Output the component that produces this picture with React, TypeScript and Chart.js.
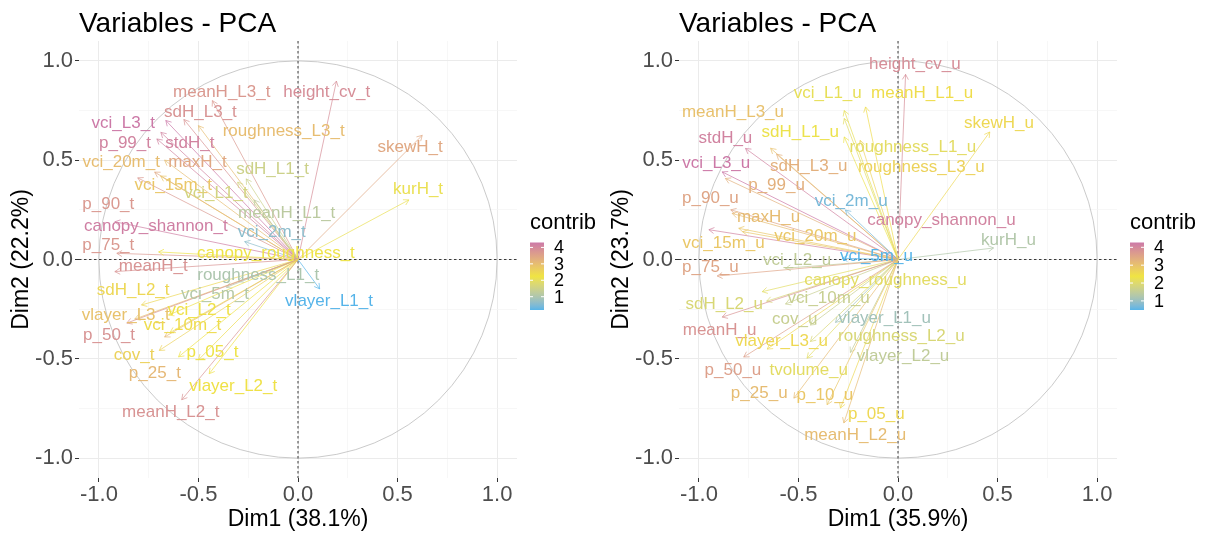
import React, { useEffect, useRef } from "react";
import { Chart, registerables } from "chart.js";

Chart.register(...registerables);

const FONT = '"Liberation Sans", Arial, Helvetica, sans-serif';

// ---------- axis ticks ----------
const gridValues = [-1, -0.75, -0.5, -0.25, 0, 0.25, 0.5, 0.75, 1];
const legendTicks = [1, 2, 3, 4];
const gradientColors = ["#56B4E9", "#F0E442", "#CC79A7"];

// ---------- left panel (_t) ----------
const leftNames = [
  "meanH_L3_t", "height_cv_t", "sdH_L3_t", "roughness_L3_t", "vci_L3_t", "p_99_t", "stdH_t",
  "vci_20m_t", "maxH_t", "vci_15m_t", "sdH_L1_t", "vci_L1_t", "meanH_L1_t", "vci_2m_t",
  "p_90_t", "canopy_shannon_t", "p_75_t", "canopy_roughness_t", "meanH_t", "roughness_L1_t",
  "vlayer_L1_t", "sdH_L2_t", "vci_5m_t", "vlayer_L3_t", "vci_L2_t", "p_50_t", "vci_10m_t",
  "cov_t", "p_25_t", "p_05_t", "vlayer_L2_t", "meanH_L2_t", "skewH_t", "kurH_t", "p_10_t",
];
const leftDim1 = [
  -0.43, 0.193, -0.573, -0.50, -0.664, -0.709, -0.689,
  -0.67, -0.72, -0.69, -0.26, -0.303, -0.22, -0.268,
  -0.805, -0.92, -0.91, -0.70, -0.92, -0.30,
  0.109, -0.786, -0.36, -0.82, -0.65, -0.86, -0.643,
  -0.697, -0.67, -0.60, -0.446, -0.584, 0.624, 0.557, -0.50,
];
const leftDim2 = [
  0.80, 0.898, 0.705, 0.674, 0.70, 0.607, 0.64,
  0.50, 0.44, 0.42, 0.406, 0.39, 0.30, 0.09,
  0.411, 0.19, 0.031, 0.038, -0.061, -0.11,
  -0.148, -0.229, -0.14, -0.30, -0.28, -0.32, -0.368,
  -0.458, -0.39, -0.49, -0.575, -0.706, 0.625, 0.30, -0.505,
];
const leftLabelDim1 = [
  -0.383, 0.144, -0.49, -0.072, -0.878, -0.869, -0.543,
  -0.888, -0.505, -0.627, -0.128, -0.412, -0.057, -0.132,
  -0.953, -0.714, -0.953, -0.111, -0.727, -0.20,
  0.156, -0.828, -0.417, -0.865, -0.497, -0.949, -0.58,
  -0.823, -0.719, -0.43, -0.325, -0.639, 0.563, 0.603, -0.50,
];
const leftLabelDim2 = [
  0.843, 0.840, 0.743, 0.647, 0.684, 0.584, 0.587,
  0.488, 0.491, 0.374, 0.453, 0.333, 0.235, 0.135,
  0.279, 0.165, 0.073, 0.029, -0.033, -0.079,
  -0.21, -0.153, -0.173, -0.279, -0.257, -0.384, -0.329,
  -0.48, -0.575, -0.468, -0.639, -0.77, 0.564, 0.353, -0.505,
];
const leftContrib = [
  3.7, 3.9, 3.8, 3.0, 4.3, 4.1, 4.1,
  3.0, 3.4, 2.8, 1.5, 1.6, 1.2, 0.6,
  3.7, 4.2, 3.7, 2.2, 3.8, 1.0,
  0.19, 2.5, 1.1, 2.9, 2.3, 3.8, 2.4,
  2.6, 3.1, 2.2, 2.3, 3.8, 3.4, 2.1, 2.4,
];
const leftHiddenLabels = ["p_10_t"];

// ---------- right panel (_u) ----------
const rightNames = [
  "height_cv_u", "vci_L1_u", "meanH_L1_u", "meanH_L3_u", "skewH_u", "stdH_u", "sdH_L1_u",
  "roughness_L1_u", "roughness_L3_u", "vci_L3_u", "sdH_L3_u", "p_99_u", "p_90_u", "vci_2m_u",
  "maxH_u", "canopy_shannon_u", "vci_20m_u", "kurH_u", "vci_15m_u", "vci_L2_u", "vci_5m_u",
  "p_75_u", "canopy_roughness_u", "sdH_L2_u", "vci_10m_u", "meanH_u", "cov_u", "vlayer_L1_u",
  "roughness_L2_u", "vlayer_L3_u", "vlayer_L2_u", "p_50_u", "tvolume_u", "p_25_u", "p_10_u",
  "p_05_u", "meanH_L2_u",
];
const rightDim1 = [
  0.038, -0.27, -0.163, -0.64, 0.461, -0.766, -0.27,
  -0.27, -0.19, -0.883, -0.61, -0.867, -0.84, -0.264,
  -0.833, -0.95, -0.80, 0.48, -0.78, -0.565, -0.28,
  -0.908, -0.682, -0.66, -0.565, -0.883, -0.44, -0.314,
  -0.44, -0.657, -0.239, -0.775, -0.457, -0.523, -0.356,
  -0.289, -0.272,
];
const rightDim2 = [
  0.932, 0.75, 0.768, 0.56, 0.642, 0.559, 0.617,
  0.71, 0.60, 0.441, 0.53, 0.408, 0.25, 0.249,
  0.232, 0.15, 0.157, 0.058, 0.14, -0.044, 0.006,
  -0.083, -0.162, -0.21, -0.224, -0.29, -0.33, -0.317,
  -0.413, -0.451, -0.468, -0.491, -0.497, -0.698, -0.731,
  -0.748, -0.823,
];
const rightLabelDim1 = [
  0.085, -0.353, 0.121, -0.829, 0.507, -0.867, -0.491,
  0.075, 0.117, -0.913, -0.448, -0.61, -0.942, -0.235,
  -0.65, 0.218, -0.415, 0.555, -0.876, -0.507, -0.108,
  -0.942, -0.063, -0.873, -0.348, -0.896, -0.519, -0.067,
  0.017, -0.585, 0.025, -0.829, -0.448, -0.697, -0.367,
  -0.109, -0.215,
];
const rightLabelDim2 = [
  0.982, 0.835, 0.835, 0.743, 0.688, 0.609, 0.642,
  0.567, 0.466, 0.483, 0.47, 0.374, 0.308, 0.295,
  0.212, 0.198, 0.115, 0.098, 0.081, -0.003, 0.018,
  -0.039, -0.103, -0.224, -0.195, -0.354, -0.30, -0.295,
  -0.388, -0.413, -0.485, -0.559, -0.559, -0.673, -0.686,
  -0.781, -0.887,
];
const rightContrib = [
  3.9, 2.2, 2.5, 3.0, 2.6, 4.1, 2.3,
  2.1, 2.7, 4.27, 3.3, 3.3, 3.5, 0.7,
  3.1, 4.1, 2.9, 1.3, 2.9, 1.5, 0.49,
  3.5, 2.1, 1.9, 1.6, 3.8, 1.6, 1.1,
  1.9, 2.6, 1.5, 3.6, 2.1, 3.1, 2.9,
  2.6, 3.1,
];
const rightHiddenLabels: string[] = [];

type Panel = {
  title: string;
  xTitle: string;
  yTitle: string;
  names: string[];
  dim1: number[];
  dim2: number[];
  labelDim1: number[];
  labelDim2: number[];
  contrib: number[];
  hidden: string[];
};

const panels: Panel[] = [
  {
    title: "Variables - PCA",
    xTitle: "Dim1 (38.1%)",
    yTitle: "Dim2 (22.2%)",
    names: leftNames,
    dim1: leftDim1,
    dim2: leftDim2,
    labelDim1: leftLabelDim1,
    labelDim2: leftLabelDim2,
    contrib: leftContrib,
    hidden: leftHiddenLabels,
  },
  {
    title: "Variables - PCA",
    xTitle: "Dim1 (35.9%)",
    yTitle: "Dim2 (23.7%)",
    names: rightNames,
    dim1: rightDim1,
    dim2: rightDim2,
    labelDim1: rightLabelDim1,
    labelDim2: rightLabelDim2,
    contrib: rightContrib,
    hidden: rightHiddenLabels,
  },
];

// ---------- colour interpolation in CIE Lab (like ggplot's gradientn) ----------
function hexToRgb(h: string): number[] {
  const n = parseInt(h.slice(1), 16);
  return [(n >> 16) & 255, (n >> 8) & 255, n & 255];
}
function srgbToLin(c: number) {
  c /= 255;
  return c <= 0.04045 ? c / 12.92 : Math.pow((c + 0.055) / 1.055, 2.4);
}
function linToSrgb(c: number) {
  const v = c <= 0.0031308 ? 12.92 * c : 1.055 * Math.pow(c, 1 / 2.4) - 0.055;
  return Math.round(Math.max(0, Math.min(1, v)) * 255);
}
const WHITE = [0.95047, 1.0, 1.08883];
function rgbToLab(rgb: number[]): number[] {
  const [r, g, b] = rgb.map(srgbToLin);
  const X = (0.4124 * r + 0.3576 * g + 0.1805 * b) / WHITE[0];
  const Y = (0.2126 * r + 0.7152 * g + 0.0722 * b) / WHITE[1];
  const Z = (0.0193 * r + 0.1192 * g + 0.9505 * b) / WHITE[2];
  const f = (t: number) => (t > 0.008856 ? Math.cbrt(t) : 7.787 * t + 16 / 116);
  const fx = f(X), fy = f(Y), fz = f(Z);
  return [116 * fy - 16, 500 * (fx - fy), 200 * (fy - fz)];
}
function labToRgb(lab: number[]): number[] {
  const fy = (lab[0] + 16) / 116;
  const fx = fy + lab[1] / 500;
  const fz = fy - lab[2] / 200;
  const inv = (t: number) => (t * t * t > 0.008856 ? t * t * t : (t - 16 / 116) / 7.787);
  const X = inv(fx) * WHITE[0], Y = inv(fy) * WHITE[1], Z = inv(fz) * WHITE[2];
  const r = 3.2406 * X - 1.5372 * Y - 0.4986 * Z;
  const g = -0.9689 * X + 1.8758 * Y + 0.0415 * Z;
  const b = 0.0557 * X - 0.204 * Y + 1.057 * Z;
  return [linToSrgb(r), linToSrgb(g), linToSrgb(b)];
}
const gradientLab = gradientColors.map((c) => rgbToLab(hexToRgb(c)));

function colorAt(t: number): string {
  t = Math.max(0, Math.min(1, t));
  const seg = t * (gradientLab.length - 1);
  const i = Math.min(gradientLab.length - 2, Math.floor(seg));
  const f = seg - i;
  const a = gradientLab[i];
  const b = gradientLab[i + 1];
  const c = labToRgb(a.map((av, k) => av + (b[k] - av) * f));
  return `rgb(${c[0]},${c[1]},${c[2]})`;
}
function contribColor(v: number, min: number, max: number): string {
  return colorAt((v - min) / (max - min));
}

const isMajor = (v: number) => Math.abs(v * 2 - Math.round(v * 2)) < 1e-9;

function axisOptions(title: string, isX: boolean) {
  return {
    type: "linear" as const,
    min: -1.1,
    max: 1.1,
    afterBuildTicks: (ax: any) => {
      ax.ticks = gridValues.map((v) => ({ value: v }));
    },
    afterFit: (ax: any) => {
      if (isX) ax.height = 55;
      else ax.width = 79;
    },
    border: { display: false },
    grid: {
      color: (c: any) => (c.tick && isMajor(c.tick.value) ? "#EBEBEB" : "#F4F4F4"),
      lineWidth: (c: any) => (c.tick && isMajor(c.tick.value) ? 1 : 0.7),
      tickColor: (c: any) => (c.tick && isMajor(c.tick.value) ? "#333333" : "rgba(0,0,0,0)"),
      tickLength: 4,
      drawTicks: true,
    },
    ticks: {
      autoSkip: false,
      maxRotation: 0,
      padding: isX ? 0 : 2,
      color: "#4D4D4D",
      font: { family: FONT, size: 22 },
      callback: (v: any) => (isMajor(Number(v)) ? Number(v).toFixed(1) : ""),
    },
    title: {
      display: true,
      text: title,
      color: "#000000",
      font: { family: FONT, size: 23 },
      padding: isX ? { top: 0, bottom: 0 } : { top: 8, bottom: 0 },
    },
  };
}

function drawArrow(ctx: CanvasRenderingContext2D, x0: number, y0: number, x1: number, y1: number, color: string) {
  ctx.strokeStyle = color;
  ctx.lineWidth = 0.7;
  ctx.beginPath();
  ctx.moveTo(x0, y0);
  ctx.lineTo(x1, y1);
  ctx.stroke();
  const ang = Math.atan2(y1 - y0, x1 - x0);
  const L = 6;
  const a = Math.PI / 6;
  ctx.beginPath();
  ctx.moveTo(x1 - L * Math.cos(ang - a), y1 - L * Math.sin(ang - a));
  ctx.lineTo(x1, y1);
  ctx.lineTo(x1 - L * Math.cos(ang + a), y1 - L * Math.sin(ang + a));
  ctx.stroke();
}

function PcaChart({ panel }: { panel: Panel }) {
  const ref = useRef<HTMLCanvasElement>(null);

  useEffect(() => {
    if (!ref.current) return;
    const cmin = Math.min(...panel.contrib);
    const cmax = Math.max(...panel.contrib);
    const colors = panel.contrib.map((v) => contribColor(v, cmin, cmax));

    const pcaPlugin = {
      id: "pcaDecor",
      beforeDatasetsDraw(chart: any) {
        const { ctx, chartArea, scales } = chart;
        const x = scales.x;
        const y = scales.y;
        const cx = x.getPixelForValue(0);
        const cy = y.getPixelForValue(0);
        const rx = x.getPixelForValue(1) - cx;
        const ry = cy - y.getPixelForValue(1);
        ctx.save();
        ctx.strokeStyle = "#BDBDBD";
        ctx.lineWidth = 0.8;
        ctx.beginPath();
        ctx.ellipse(cx, cy, rx, ry, 0, 0, Math.PI * 2);
        ctx.stroke();
        ctx.strokeStyle = "#3A3A3A";
        ctx.lineWidth = 1;
        ctx.setLineDash([2.5, 2.5]);
        ctx.beginPath();
        ctx.moveTo(chartArea.left, cy);
        ctx.lineTo(chartArea.right, cy);
        ctx.moveTo(cx, chartArea.top);
        ctx.lineTo(cx, chartArea.bottom);
        ctx.stroke();
        ctx.restore();
      },
      afterDatasetsDraw(chart: any) {
        const { ctx, scales } = chart;
        const cx = scales.x.getPixelForValue(0);
        const cy = scales.y.getPixelForValue(0);
        const tips = chart.getDatasetMeta(0).data;
        const labs = chart.getDatasetMeta(1).data;
        ctx.save();
        tips.forEach((p: any, i: number) => drawArrow(ctx, cx, cy, p.x, p.y, colors[i]));
        ctx.font = `17px ${FONT}`;
        ctx.textAlign = "center";
        ctx.textBaseline = "middle";
        labs.forEach((p: any, i: number) => {
          const name = panel.names[i];
          if (panel.hidden.includes(name)) return;
          ctx.fillStyle = colors[i];
          ctx.fillText(name, p.x, p.y);
        });
        ctx.restore();
      },
      afterDraw(chart: any) {
        const { ctx, chartArea } = chart;
        ctx.save();
        // title
        ctx.fillStyle = "#000000";
        ctx.font = `28px ${FONT}`;
        ctx.textAlign = "left";
        ctx.textBaseline = "alphabetic";
        ctx.fillText(panel.title, chartArea.left, 32);
        // legend
        const mid = (chartArea.top + chartArea.bottom) / 2;
        const bx = chartArea.right + 13;
        const bw = 14;
        const top = mid - 17;
        const bottom = mid + 50.5;
        ctx.font = `22px ${FONT}`;
        ctx.fillText("contrib", bx, mid - 31);
        const g = ctx.createLinearGradient(0, bottom, 0, top);
        const n = 24;
        for (let k = 0; k <= n; k++) g.addColorStop(k / n, colorAt(k / n));
        ctx.fillStyle = g;
        ctx.fillRect(bx, top, bw, bottom - top);
        ctx.font = `18px ${FONT}`;
        ctx.textBaseline = "middle";
        legendTicks.forEach((v) => {
          const ty = bottom - ((v - cmin) / (cmax - cmin)) * (bottom - top);
          ctx.strokeStyle = "#FFFFFF";
          ctx.lineWidth = 1;
          ctx.beginPath();
          ctx.moveTo(bx, ty);
          ctx.lineTo(bx + 3, ty);
          ctx.moveTo(bx + bw - 3, ty);
          ctx.lineTo(bx + bw, ty);
          ctx.stroke();
          ctx.fillStyle = "#000000";
          ctx.fillText(String(v), bx + bw + 10, ty + 1);
        });
        ctx.restore();
      },
    };

    const chart = new Chart(ref.current, {
      type: "scatter",
      data: {
        datasets: [
          {
            label: "arrows",
            data: panel.dim1.map((x, i) => ({ x, y: panel.dim2[i] })),
            pointRadius: 0,
            pointHoverRadius: 0,
          },
          {
            label: "labels",
            data: panel.labelDim1.map((x, i) => ({ x, y: panel.labelDim2[i] })),
            pointRadius: 0,
            pointHoverRadius: 0,
          },
        ],
      },
      options: {
        responsive: false,
        animation: false,
        events: [],
        layout: { padding: { top: 41, right: 83, bottom: 0, left: 0 } },
        plugins: {
          legend: { display: false },
          tooltip: { enabled: false },
          title: { display: false },
        },
        scales: {
          x: axisOptions(panel.xTitle, true),
          y: axisOptions(panel.yTitle, false),
        },
      },
      plugins: [pcaPlugin],
    });
    return () => chart.destroy();
  }, [panel]);

  return <canvas ref={ref} width={600} height={533} style={{ display: "block", width: 600, height: 533 }} />;
}

export default function App() {
  return (
    <div
      style={{
        position: "fixed",
        left: 0,
        top: 0,
        width: 1207,
        height: 533,
        background: "#FFFFFF",
        display: "flex",
        flexDirection: "row",
      }}
    >
      {panels.map((p, i) => (
        <PcaChart key={i} panel={p} />
      ))}
    </div>
  );
}
